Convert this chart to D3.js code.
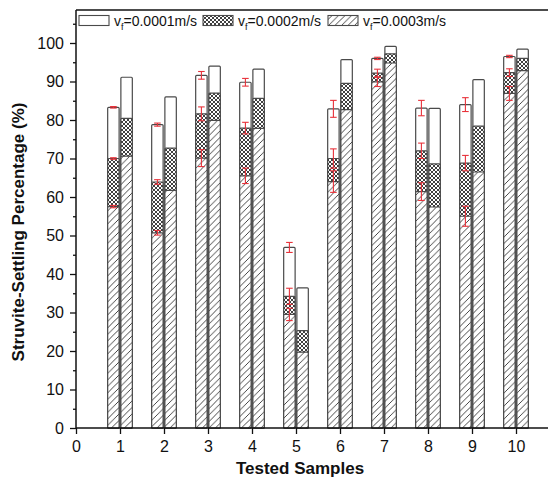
<!DOCTYPE html>
<html>
<head>
<meta charset="utf-8">
<script src="https://cdn.jsdelivr.net/npm/d3@7"></script>
<style>
  html, body { margin: 0; padding: 0; background: #fff; }
  svg { display: block; font-family: "Liberation Sans", Arial, sans-serif; }
</style>
</head>
<body>
<svg id="chart" width="548" height="477"></svg>
<script>
// Tested samples on the x axis
const samples = [1, 2, 3, 4, 5, 6, 7, 8, 9, 10];

// Velocity labels for the three overlaid series
const velocityLabels = ["0.0001m/s", "0.0002m/s", "0.0003m/s"];

// Left bar of each pair (with standard deviation)
const setA_v1 = [83.3, 78.8, 91.6, 89.8, 46.9, 82.9, 96.0, 83.1, 84.0, 96.5];
const setA_v1Err = [0.2, 0.4, 1.0, 1.0, 1.3, 2.2, 0.3, 2.0, 1.8, 0.3];
const setA_v2 = [70.0, 63.9, 81.6, 77.9, 34.2, 70.0, 92.2, 72.0, 68.8, 92.3];
const setA_v2Err = [0.2, 0.6, 1.8, 1.5, 2.1, 2.5, 1.0, 2.0, 2.0, 1.0];
const setA_v3 = [57.5, 50.7, 70.1, 65.5, 29.5, 64.0, 89.9, 61.4, 55.0, 86.9];
const setA_v3Err = [0.3, 0.6, 2.2, 2.0, 1.6, 2.8, 1.2, 2.3, 2.6, 1.8];

// Right bar of each pair
const setB_v1 = [91.1, 86.0, 94.0, 93.2, 36.4, 95.7, 99.1, 83.0, 90.5, 98.4];
const setB_v2 = [80.4, 72.7, 87.0, 85.6, 25.3, 89.5, 97.2, 68.6, 78.4, 96.0];
const setB_v3 = [70.6, 61.7, 79.9, 77.8, 19.7, 82.7, 94.8, 57.4, 66.5, 92.8];

// Axis ticks
const xTicks = [0, 1, 2, 3, 4, 5, 6, 7, 8, 9, 10];
const yTicks = [0, 10, 20, 30, 40, 50, 60, 70, 80, 90, 100];
const yMinorTicks = [5, 15, 25, 35, 45, 55, 65, 75, 85, 95, 105];

const svg = d3.select("#chart");
const W = 548, H = 477;
const plotLeft = 76, plotBottom = 428, plotTop = 10;

const x = d3.scaleLinear().domain([0, 10]).range([plotLeft, 516]);
const y = d3.scaleLinear().domain([0, 100]).range([plotBottom, 43]);

const barOffset = 0.15;   // distance of each bar centre from the sample tick (data units)
const barWidth = 0.26;    // bar width (data units)
const bw = x(barWidth) - x(0);

// fill patterns
const defs = svg.append("defs");
const hatch = defs.append("pattern").attr("id", "hatch")
  .attr("patternUnits", "userSpaceOnUse").attr("width", 6.5).attr("height", 6.5);
hatch.append("rect").attr("width", 6.5).attr("height", 6.5).attr("fill", "#fff");
hatch.append("path").attr("d", "M0,6.5L6.5,0M-1.5,1.5L1.5,-1.5M5,8L8,5")
  .attr("stroke", "#333").attr("stroke-width", 0.9);

const cross = defs.append("pattern").attr("id", "cross")
  .attr("patternUnits", "userSpaceOnUse").attr("width", 4).attr("height", 4);
cross.append("rect").attr("width", 4).attr("height", 4).attr("fill", "#fff");
cross.append("path").attr("d", "M0,0L4,4M4,0L0,4")
  .attr("stroke", "#2a2a2a").attr("stroke-width", 0.9);

const fills = ["#fff", "url(#cross)", "url(#hatch)"];
const outline = "#4a4a4a";

svg.insert("rect", ":first-child").attr("width", W).attr("height", H).attr("fill", "#fff");

// bars: tallest (white) drawn first, then the overlaid lower series
function drawSet(series, offset, cls) {
  series.forEach((vals, k) => {
    svg.append("g").attr("class", cls + "-" + k)
      .selectAll("rect").data(samples)
      .join("rect")
      .attr("x", (d) => x(d + offset) - bw / 2)
      .attr("width", bw)
      .attr("y", (d, i) => y(vals[i]))
      .attr("height", (d, i) => y(0) - y(vals[i]))
      .attr("rx", 1)
      .attr("fill", fills[k])
      .attr("stroke", outline)
      .attr("stroke-width", 1.2);
  });
}
drawSet([setA_v1, setA_v2, setA_v3], -barOffset, "setA");
drawSet([setB_v1, setB_v2, setB_v3], barOffset, "setB");

// error bars on the left bars
const errColor = "#e8323a";
const capHalf = 3.3;
[[setA_v1, setA_v1Err], [setA_v2, setA_v2Err], [setA_v3, setA_v3Err]].forEach(([vals, errs], k) => {
  const g = svg.append("g").attr("class", "err-" + k)
    .attr("stroke", errColor).attr("stroke-width", 1.1).attr("fill", "none");
  samples.forEach((s, i) => {
    const cx = x(s - barOffset);
    const hi = y(vals[i] + errs[i]), lo = y(vals[i] - errs[i]);
    g.append("line").attr("x1", cx).attr("x2", cx).attr("y1", hi).attr("y2", lo);
    g.append("line").attr("x1", cx - capHalf).attr("x2", cx + capHalf).attr("y1", hi).attr("y2", hi);
    g.append("line").attr("x1", cx - capHalf).attr("x2", cx + capHalf).attr("y1", lo).attr("y2", lo);
  });
});

// axes
const yAxis = svg.append("g").attr("transform", `translate(${plotLeft},0)`)
  .call(d3.axisLeft(y).tickValues(yTicks).tickSize(6).tickPadding(6).tickFormat(d3.format("d")));
const yMinor = svg.append("g").attr("transform", `translate(${plotLeft},0)`)
  .call(d3.axisLeft(y).tickValues(yMinorTicks).tickSize(3).tickFormat(""));
const xAxis = svg.append("g").attr("transform", `translate(0,${plotBottom})`)
  .call(d3.axisBottom(x).tickValues(xTicks).tickSize(6).tickPadding(7).tickFormat(d3.format("d")));

[yAxis, yMinor, xAxis].forEach((g) => {
  g.select(".domain").remove();
  g.selectAll(".tick line").attr("stroke", "#111").attr("stroke-width", 1.3);
  g.selectAll(".tick text").attr("font-size", 16).attr("fill", "#111")
    .attr("font-family", "'Liberation Sans', Arial, sans-serif");
});

// frame lines
const frame = svg.append("g").attr("stroke", "#111").attr("stroke-width", 1.5);
frame.append("line").attr("x1", plotLeft).attr("x2", plotLeft).attr("y1", plotTop).attr("y2", plotBottom + 0.7);
frame.append("line").attr("x1", plotLeft).attr("x2", W).attr("y1", plotBottom).attr("y2", plotBottom);
frame.append("line").attr("x1", plotLeft).attr("x2", W).attr("y1", plotTop).attr("y2", plotTop);

// axis titles
svg.append("text")
  .attr("x", 300).attr("y", 474)
  .attr("text-anchor", "middle")
  .attr("font-size", 17).attr("font-weight", "bold").attr("fill", "#111")
  .text("Tested Samples");
svg.append("text")
  .attr("transform", "translate(24,232) rotate(-90)")
  .attr("text-anchor", "middle")
  .attr("font-size", 17).attr("font-weight", "bold").attr("fill", "#111")
  .text("Struvite-Settling Percentage (%)");

// legend
const legendX = [79, 203, 328];
const legend = svg.append("g").attr("class", "legend");
velocityLabels.forEach((lab, k) => {
  const g = legend.append("g").attr("transform", `translate(${legendX[k]},0)`);
  g.append("rect").attr("x", 0).attr("y", 15.5).attr("width", 30).attr("height", 10)
    .attr("fill", fills[k]).attr("stroke", outline).attr("stroke-width", 1.1);
  const t = g.append("text").attr("x", 35).attr("y", 26)
    .attr("font-size", 14).attr("fill", "#111");
  t.append("tspan").text("v");
  t.append("tspan").attr("font-size", 9).attr("dy", 3.5).text("f");
  t.append("tspan").attr("dy", -3.5).text("=" + lab);
});
</script>
</body>
</html>
